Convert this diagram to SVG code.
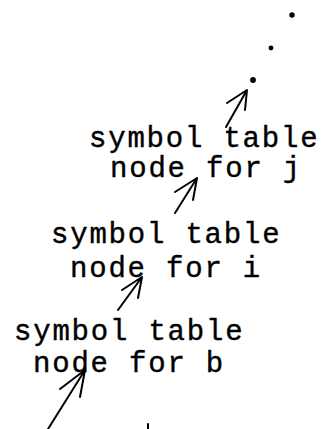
<svg xmlns="http://www.w3.org/2000/svg" width="322" height="429" viewBox="0 0 322 429">
<style>
.t{font-family:"Liberation Mono","DejaVu Sans Mono",monospace;font-size:29px;letter-spacing:1.8px;fill:#000;stroke:#000;stroke-width:0.4}
.a{fill:none;stroke:#000;stroke-width:2;stroke-linecap:round;stroke-linejoin:round}
</style>
<rect width="322" height="429" fill="#fff"/>
<g id="dots">
<circle cx="292" cy="15" r="2.7"/>
<circle cx="271" cy="48" r="2.4"/>
<circle cx="253" cy="80" r="2.9"/>
</g>
<g id="node-j">
<text class="t" x="89" y="147">symbol table</text>
<text class="t" x="110" y="177">node for j</text>
</g>
<g id="node-i">
<text class="t" x="51" y="243">symbol table</text>
<text class="t" x="70" y="277">node for i</text>
</g>
<g id="node-b">
<text class="t" x="14" y="340">symbol table</text>
<text class="t" x="33" y="372">node for b</text>
</g>
<g id="connectors">
<path class="a" d="M226 127 L247 90 M227 103 L247 90 L245 110"/>
<path class="a" d="M175 213 L197 178 M175 192 L197 178 L193 200"/>
<path class="a" d="M118 310 L142 277 M122 290 L142 277 L138 298"/>
<path class="a" d="M48 429 L85 370 M60 389 L85 370 L80 397"/>
<path class="a" d="M148 424 L148 429" stroke-width="1.5"/>
</g>
</svg>
